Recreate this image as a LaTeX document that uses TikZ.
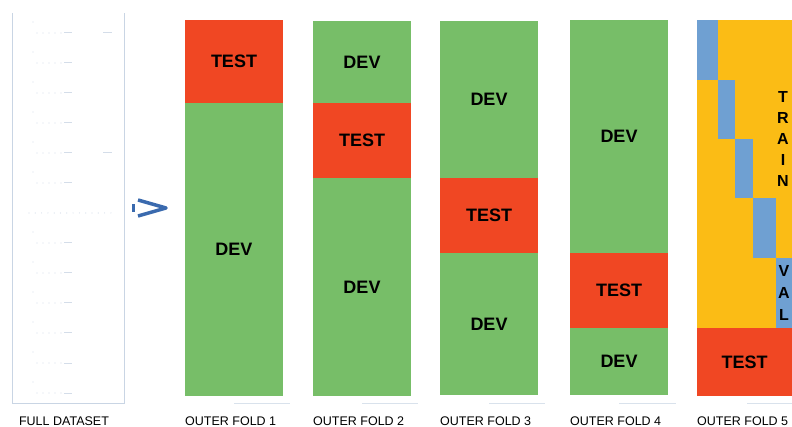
\documentclass[tikz,border=0pt]{standalone}
\usepackage{fontspec}
\setmainfont{Liberation Sans}
\usepackage{tikz}
\definecolor{devgreen}{HTML}{77BE68}
\definecolor{testred}{HTML}{F04723}
\definecolor{trainyel}{HTML}{FBBC15}
\definecolor{valblue}{HTML}{6FA0D2}
\definecolor{boxline}{HTML}{C9D5E4}
\definecolor{arrowblue}{HTML}{3A6AAE}
\tikzstyle{block} = [rectangle,inner sep=0pt,minimum width=98pt,font=\bfseries\fontsize{18}{18}\selectfont]
\tikzstyle{foldlabel} = [anchor=west,inner sep=0pt,font=\fontsize{12.5}{12.5}\selectfont]
\tikzstyle{dot} = [boxline!80]

\begin{document}
\begin{tikzpicture}[x=1pt,y=-1pt]
        \useasboundingbox (0,0) rectangle (792,427);
        % full dataset
        \draw[boxline, line width=1pt] (12,13) -- (12,403) -- (124,403) -- (124,13);
        \foreach \r in {0,...,12}{
            \ifnum\r=6
                \foreach \i in {0,...,13} \fill[dot] (29+6.3*\i,213) circle (0.6);
            \else
                \fill[dot] (33,22+30*\r) circle (0.6);
                \foreach \i in {0,...,4} \fill[dot] (37+6*\i,33+30*\r) circle (0.6);
                \draw[dot, line width=1pt] (64,33+30*\r) -- (72,33+30*\r);
            \fi
        }
        \draw[dot, line width=1pt] (103,33) -- (112,33);
        \draw[dot, line width=1pt] (103,153) -- (112,153);
        \node[anchor=center, inner sep=0pt, font=\fontsize{12.5}{12.5}\selectfont] (full) at (64,421) {FULL DATASET};

        % arrow
        \draw[arrowblue, line width=3.5pt, line join=round] (138,200) -- (166,208) -- (138,216);
        \fill[arrowblue] (132,204) rectangle (135,212);

        % outer fold 1
        \node[block, fill=testred, minimum height=83pt] (f1test) at (234,61.5) {TEST};
        \node[block, fill=devgreen, minimum height=293pt] (f1dev) at (234,249.5) {DEV};
        % outer fold 2
        \node[block, fill=devgreen, minimum height=82pt] (f2deva) at (362,62) {DEV};
        \node[block, fill=testred, minimum height=75pt] (f2test) at (362,140.5) {TEST};
        \node[block, fill=devgreen, minimum height=218pt] (f2devb) at (362,287) {DEV};
        % outer fold 3
        \node[block, fill=devgreen, minimum height=157pt] (f3deva) at (489,99.5) {DEV};
        \node[block, fill=testred, minimum height=75pt] (f3test) at (489,215.5) {TEST};
        \node[block, fill=devgreen, minimum height=142pt] (f3devb) at (489,324) {DEV};
        % outer fold 4
        \node[block, fill=devgreen, minimum height=233pt] (f4deva) at (619,136.5) {DEV};
        \node[block, fill=testred, minimum height=75pt] (f4test) at (619,290.5) {TEST};
        \node[block, fill=devgreen, minimum height=67pt] (f4devb) at (619,361.5) {DEV};
        % outer fold 5
        \node[block, fill=trainyel, minimum width=95pt, minimum height=308pt] (f5train) at (744.5,174) {};
        \node[block, fill=valblue, minimum width=21pt, minimum height=60pt] (v1) at (707.5,50) {};
        \node[block, fill=valblue, minimum width=17pt, minimum height=59pt] (v2) at (726.5,109.5) {};
        \node[block, fill=valblue, minimum width=18pt, minimum height=59pt] (v3) at (744,168.5) {};
        \node[block, fill=valblue, minimum width=23pt, minimum height=60pt] (v4) at (764.5,228) {};
        \node[block, fill=valblue, minimum width=16pt, minimum height=70pt] (v5) at (784,293) {};
        \node[align=center, font=\bfseries\fontsize{16}{21}\selectfont] (train) at (783,139) {T\\R\\A\\I\\N};
        \node[align=center, font=\bfseries\fontsize{16}{22}\selectfont] (val) at (784,293) {V\\A\\L};
        \node[block, fill=testred, minimum width=95pt, minimum height=68pt] (f5test) at (744.5,362) {TEST};

        % faint lines under the folds
        \draw[boxline!70, line width=0.8pt] (234,403) -- (290,403);
        \draw[boxline!70, line width=0.8pt] (362,403) -- (418,403);
        \draw[boxline!70, line width=0.8pt] (489,403) -- (545,403);
        \draw[boxline!70, line width=0.8pt] (619,403) -- (676,403);
        \draw[boxline!70, line width=0.8pt] (747,403) -- (792,403);

        % labels
        \node[foldlabel] (l1) at (185,421) {OUTER FOLD 1};
        \node[foldlabel] (l2) at (313,421) {OUTER FOLD 2};
        \node[foldlabel] (l3) at (440,421) {OUTER FOLD 3};
        \node[foldlabel] (l4) at (570,421) {OUTER FOLD 4};
        \node[foldlabel] (l5) at (697,421) {OUTER FOLD 5};
        \end{tikzpicture}
\end{document}
